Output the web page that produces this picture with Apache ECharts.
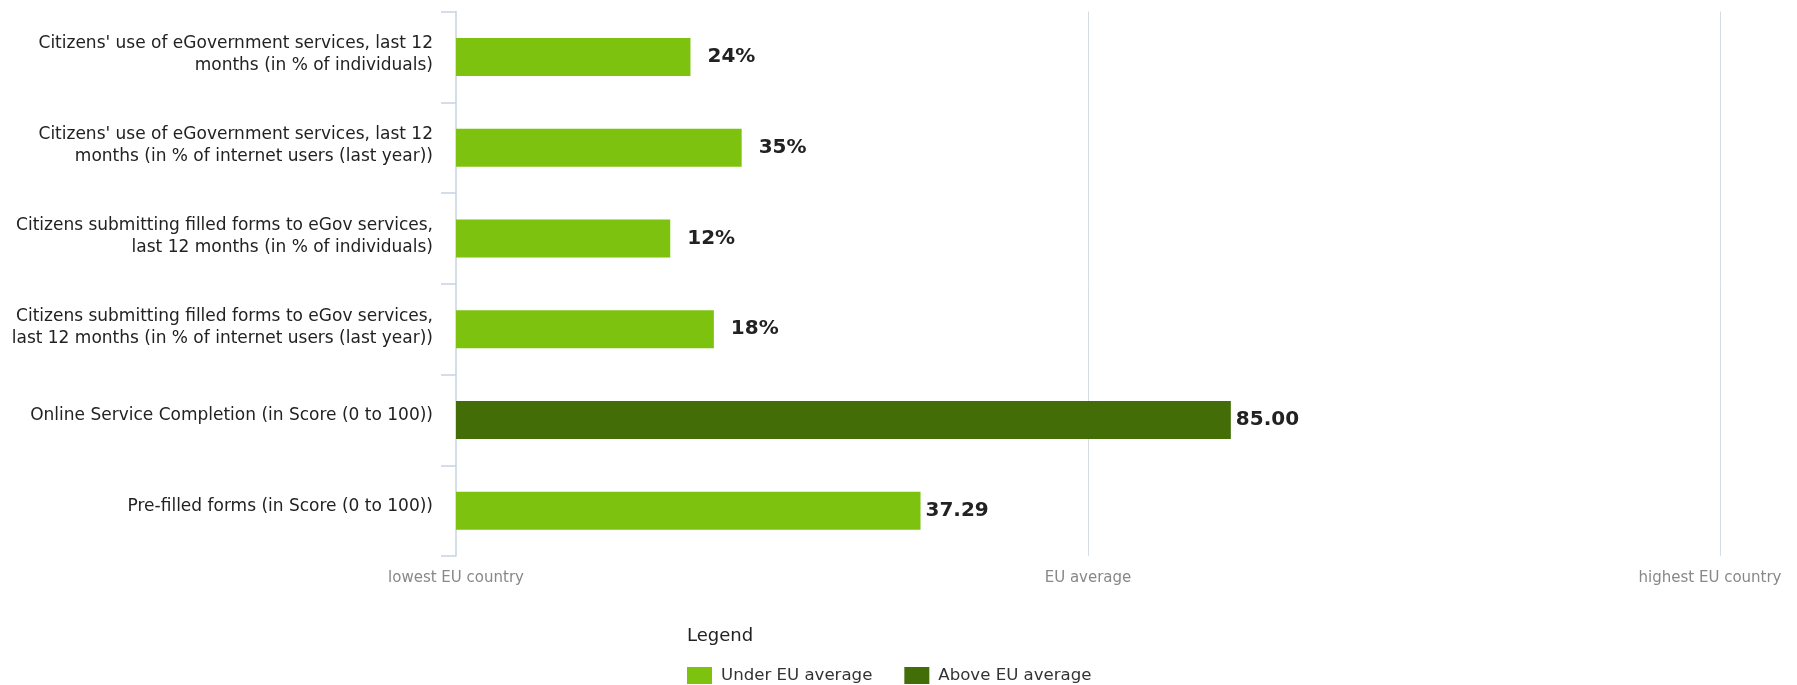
<!DOCTYPE html>
<html>
<head>
<meta charset="utf-8">
<title>eGovernment indicators</title>
<script src="https://cdn.jsdelivr.net/npm/echarts@6/dist/echarts.min.js"></script>
<style>
  html, body { margin: 0; padding: 0; background: #fff; }
  #chart { width: 1797px; height: 685px; }
</style>
</head>
<body>
<div id="chart"></div>
<script>
// Indicator names (line breaks as drawn next to the axis)
const categories = [
  "Citizens' use of eGovernment services, last 12\nmonths (in % of individuals)",
  "Citizens' use of eGovernment services, last 12\nmonths (in % of internet users (last year))",
  "Citizens submitting filled forms to eGov services,\nlast 12 months (in % of individuals)",
  "Citizens submitting filled forms to eGov services,\nlast 12 months (in % of internet users (last year))",
  "Online Service Completion (in Score (0 to 100))",
  "Pre-filled forms (in Score (0 to 100))"
];

// Position of the country between lowest EU country (0), EU average (1) and highest EU country (2)
const relativePosition = [0.371, 0.452, 0.339, 0.408, 1.226, 0.735];

// Values printed beside each bar
const valueLabels = ["24%", "35%", "12%", "18%", "85.00", "37.29"];

// Scale tick labels
const tickLabels = ["lowest EU country", "EU average", "highest EU country"];

const seriesNames = ["Under EU average", "Above EU average"];
const colors = ["#7dc20f", "#436d06"];

const underData = relativePosition.map(v => (v < 1 ? v : '-'));
const aboveData = relativePosition.map(v => (v >= 1 ? v : '-'));

function labelFor(i) {
  const isPercent = /%$/.test(valueLabels[i]);
  return {
    show: true,
    position: 'right',
    distance: isPercent ? 17 : 5,
    formatter: () => valueLabels[i],
    fontFamily: 'DejaVu Sans',
    fontWeight: 'bold',
    fontSize: 20,
    color: '#222'
  };
}

function buildData(arr) {
  return arr.map((v, i) => (v === '-' ? '-' : { value: v, label: labelFor(i) }));
}

const chart = echarts.init(document.getElementById('chart'), null, { renderer: 'canvas' });

chart.setOption({
  animation: false,
  backgroundColor: '#ffffff',
  textStyle: { fontFamily: 'DejaVu Sans' },
  title: {
    text: 'Legend',
    left: 682,
    top: 622,
    textStyle: { fontFamily: 'DejaVu Sans', fontSize: 18, fontWeight: 'normal', color: '#222' }
  },
  legend: {
    left: 682,
    top: 662,
    itemWidth: 25,
    itemHeight: 17,
    itemGap: 32,
    icon: 'rect',
    data: seriesNames,
    textStyle: { fontFamily: 'DejaVu Sans', fontSize: 16.6, color: '#333', padding: [0, 0, 0, 4] }
  },
  grid: {
    left: 456,
    right: 77,
    top: 11.5,
    bottom: 129,
    containLabel: false
  },
  xAxis: {
    type: 'value',
    min: 0,
    max: 2,
    interval: 1,
    axisLine: { show: false },
    axisTick: { show: false },
    splitLine: {
      show: true,
      lineStyle: { color: '#d6dce3', width: 1 },
      showMinLine: false
    },
    axisLabel: {
      margin: 15,
      fontFamily: 'DejaVu Sans',
      fontSize: 15,
      color: '#888',
      formatter: v => {
        const i = Math.round(v);
        // keep the last label inside the canvas edge
        return i === tickLabels.length - 1 ? '{edge|' + tickLabels[i] + '}' : tickLabels[i];
      },
      rich: {
        edge: { fontFamily: 'DejaVu Sans', fontSize: 15, color: '#888', padding: [0, 20, 0, 0] }
      }
    }
  },
  yAxis: {
    type: 'category',
    inverse: true,
    data: categories,
    axisLine: { show: true, lineStyle: { color: '#c5d3e2', width: 1.5 } },
    axisTick: { show: true, length: 15, lineStyle: { color: '#c5d3e2', width: 1.5 } },
    axisLabel: {
      margin: 23,
      fontFamily: 'DejaVu Sans',
      fontSize: 17,
      lineHeight: 22,
      color: '#222',
      align: 'right',
      // a thin empty line below lifts the text block slightly above the band centre
      formatter: v => v + (v.indexOf('\n') >= 0 ? '\n{gap2| }' : '\n{gap1| }'),
      rich: {
        gap1: { fontSize: 1, lineHeight: 8 },
        gap2: { fontSize: 1, lineHeight: 4 }
      }
    }
  },
  series: [
    {
      name: seriesNames[0],
      type: 'bar',
      stack: 'pos',
      barWidth: 38,
      itemStyle: { color: colors[0] },
      data: buildData(underData)
    },
    {
      name: seriesNames[1],
      type: 'bar',
      stack: 'pos',
      barWidth: 38,
      itemStyle: { color: colors[1] },
      data: buildData(aboveData)
    }
  ]
});
</script>
</body>
</html>
